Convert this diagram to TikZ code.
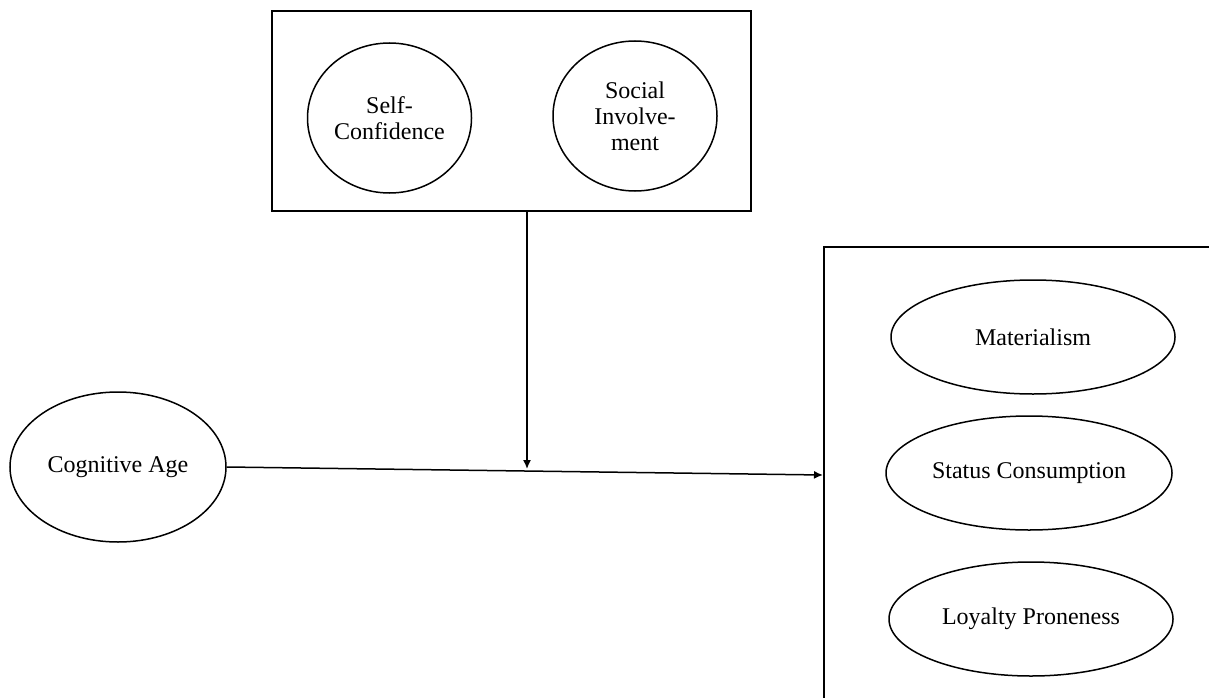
\documentclass[tikz,border=0pt]{standalone}
\usepackage{fontspec}
\setmainfont{Liberation Serif}
\usetikzlibrary{positioning, calc, shapes.geometric, arrows.meta}

\tikzset{
    construct/.style={draw, ellipse, line width=1.5pt, inner sep=0pt, align=center,
        font=\fontsize{24}{26}\selectfont},
    frame/.style={draw, line width=1.5pt, inner sep=0pt},
    link/.style={line width=1.5pt, -{Latex[length=9pt,width=8pt]}}
}

\begin{document}
\begin{tikzpicture}[x=1pt, y=-1pt]
        \useasboundingbox (0,0) rectangle (1209,698);

        % moderators
        \node[frame, minimum width=479, minimum height=200] (moderators) at (511.5,111) {};
        \node[construct, minimum width=164, minimum height=150] (selfconf) at (389.5,118) {Self-\\Confidence};
        \node[construct, minimum width=164, minimum height=150] (socinv) at (635,116) {Social\\Involve-\\ment};

        % independent variable
        \node[construct, minimum width=216, minimum height=150] (cogage) at (118,467) {Cognitive Age};

        % outcomes (box runs off the page)
        \node[frame, anchor=north west, minimum width=420, minimum height=480] (outcomes) at (823,246) {};
        \node[construct, minimum width=284, minimum height=114] (mater) at (1033,337) {Materialism};
        \node[construct, minimum width=286, minimum height=114] (status) at (1029,473) {Status Consumption};
        \node[construct, minimum width=284, minimum height=114] (loyal) at (1031,619) {Loyalty Proneness};

        \coordinate (hit) at (527,469);
        \coordinate (in) at (823,475);

        % the arrows
        \draw[link] (moderators.south -| hit) -- (hit);
        \draw[link] (cogage.east) -- (in);
    \end{tikzpicture}
\end{document}
